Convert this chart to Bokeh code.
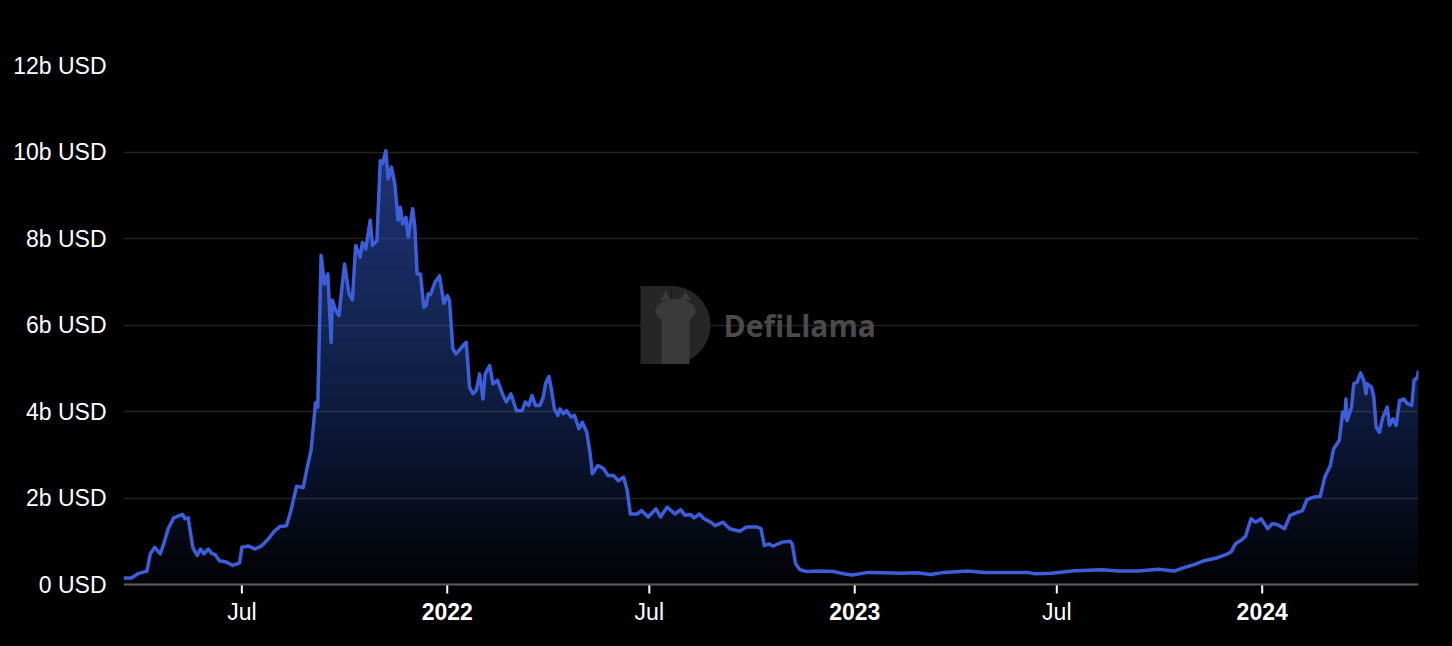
import numpy as np
import pandas as pd
from bokeh.plotting import figure
from bokeh.models import Range1d, FixedTicker, Label, Span
from bokeh.core.properties import value
from bokeh.embed import file_html
from bokeh.resources import INLINE

# ---------------- data (TVL in billions USD) ----------------
dates = [
    "2021-03-17", "2021-03-24", "2021-03-30", "2021-04-07", "2021-04-10", "2021-04-14",
    "2021-04-19", "2021-04-23", "2021-04-26", "2021-05-01", "2021-05-09", "2021-05-11",
    "2021-05-14", "2021-05-18", "2021-05-22", "2021-05-25", "2021-05-28", "2021-06-01",
    "2021-06-04", "2021-06-07", "2021-06-11", "2021-06-17", "2021-06-23", "2021-06-29",
    "2021-07-01", "2021-07-07", "2021-07-13", "2021-07-19", "2021-07-25", "2021-07-30",
    "2021-08-04", "2021-08-10", "2021-08-14", "2021-08-19", "2021-08-25", "2021-08-28",
    "2021-09-01", "2021-09-03", "2021-09-05", "2021-09-07", "2021-09-10", "2021-09-13",
    "2021-09-16", "2021-09-19", "2021-09-20", "2021-09-23", "2021-09-26", "2021-10-01",
    "2021-10-05", "2021-10-08", "2021-10-11", "2021-10-15", "2021-10-17", "2021-10-20",
    "2021-10-24", "2021-10-26", "2021-10-30", "2021-11-02", "2021-11-04", "2021-11-07",
    "2021-11-09", "2021-11-12", "2021-11-15", "2021-11-18", "2021-11-20", "2021-11-22",
    "2021-11-25", "2021-11-27", "2021-12-01", "2021-12-03", "2021-12-05", "2021-12-08",
    "2021-12-11", "2021-12-13", "2021-12-15", "2021-12-17", "2021-12-21", "2021-12-25",
    "2021-12-29", "2022-01-01", "2022-01-03", "2022-01-06", "2022-01-09", "2022-01-14",
    "2022-01-18", "2022-01-21", "2022-01-24", "2022-01-27", "2022-01-30", "2022-02-02",
    "2022-02-04", "2022-02-08", "2022-02-11", "2022-02-15", "2022-02-20", "2022-02-23",
    "2022-02-27", "2022-03-04", "2022-03-09", "2022-03-12", "2022-03-15", "2022-03-18",
    "2022-03-21", "2022-03-25", "2022-03-28", "2022-03-30", "2022-04-02", "2022-04-04",
    "2022-04-07", "2022-04-10", "2022-04-12", "2022-04-15", "2022-04-18", "2022-04-22",
    "2022-04-25", "2022-04-29", "2022-05-02", "2022-05-06", "2022-05-09", "2022-05-11",
    "2022-05-16", "2022-05-21", "2022-05-25", "2022-05-30", "2022-06-03", "2022-06-08",
    "2022-06-11", "2022-06-14", "2022-06-20", "2022-06-24", "2022-06-30", "2022-07-07",
    "2022-07-11", "2022-07-17", "2022-07-24", "2022-07-29", "2022-08-02", "2022-08-07",
    "2022-08-10", "2022-08-15", "2022-08-19", "2022-08-25", "2022-08-29", "2022-09-05",
    "2022-09-11", "2022-09-20", "2022-09-26", "2022-10-05", "2022-10-09", "2022-10-12",
    "2022-10-16", "2022-10-20", "2022-10-28", "2022-11-04", "2022-11-06", "2022-11-09",
    "2022-11-13", "2022-11-19", "2022-11-30", "2022-12-13", "2022-12-22", "2022-12-30",
    "2023-01-13", "2023-01-27", "2023-02-11", "2023-02-26", "2023-03-10", "2023-03-22",
    "2023-04-12", "2023-04-27", "2023-05-21", "2023-06-05", "2023-06-11", "2023-06-26",
    "2023-07-17", "2023-08-10", "2023-08-25", "2023-09-12", "2023-09-30", "2023-10-14",
    "2023-10-23", "2023-11-01", "2023-11-10", "2023-11-22", "2023-12-01", "2023-12-04",
    "2023-12-08", "2023-12-13", "2023-12-17", "2023-12-22", "2023-12-26", "2023-12-31",
    "2024-01-06", "2024-01-10", "2024-01-15", "2024-01-21", "2024-01-26", "2024-02-01",
    "2024-02-06", "2024-02-10", "2024-02-16", "2024-02-22", "2024-02-26", "2024-03-02",
    "2024-03-05", "2024-03-10", "2024-03-12", "2024-03-13", "2024-03-15", "2024-03-16",
    "2024-03-17", "2024-03-21", "2024-03-23", "2024-03-26", "2024-03-29", "2024-04-01",
    "2024-04-03", "2024-04-04", "2024-04-08", "2024-04-10", "2024-04-12", "2024-04-15",
    "2024-04-18", "2024-04-22", "2024-04-24", "2024-04-27", "2024-04-30", "2024-05-03",
    "2024-05-07", "2024-05-10", "2024-05-14", "2024-05-16", "2024-05-19", "2024-05-20",
]
tvl_b = [
    0.15, 0.15, 0.25, 0.31, 0.71, 0.86,
    0.71, 1.02, 1.29, 1.54, 1.62, 1.52,
    1.54, 0.86, 0.67, 0.82, 0.71, 0.82,
    0.72, 0.69, 0.55, 0.52, 0.44, 0.50,
    0.86, 0.89, 0.82, 0.90, 1.06, 1.23,
    1.34, 1.36, 1.71, 2.27, 2.24, 2.64,
    3.10, 3.64, 4.20, 4.10, 7.61, 6.95,
    7.18, 5.60, 6.57, 6.34, 6.22, 7.41,
    6.72, 6.58, 7.84, 7.57, 7.91, 7.76,
    8.42, 7.84, 7.95, 9.80, 9.73, 10.03,
    9.38, 9.65, 9.26, 8.42, 8.72, 8.34,
    8.49, 8.03, 8.69, 8.26, 7.18, 7.18,
    6.41, 6.45, 6.72, 6.70, 6.99, 7.14,
    6.50, 6.68, 6.57, 5.45, 5.33, 5.49,
    5.60, 4.56, 4.41, 4.49, 4.87, 4.29,
    4.87, 5.06, 4.64, 4.72, 4.37, 4.22,
    4.41, 4.02, 4.02, 4.22, 4.14, 4.37,
    4.14, 4.14, 4.33, 4.64, 4.81, 4.56,
    4.06, 3.91, 4.06, 3.95, 4.02, 3.87,
    3.91, 3.60, 3.75, 3.52, 3.02, 2.56,
    2.75, 2.68, 2.52, 2.52, 2.40, 2.48,
    2.20, 1.63, 1.63, 1.71, 1.56, 1.75,
    1.56, 1.79, 1.63, 1.73, 1.60, 1.62,
    1.54, 1.63, 1.52, 1.44, 1.36, 1.44,
    1.29, 1.23, 1.33, 1.33, 1.29, 0.90,
    0.94, 0.89, 0.98, 1.00, 0.94, 0.48,
    0.34, 0.30, 0.31, 0.30, 0.25, 0.22,
    0.28, 0.27, 0.26, 0.27, 0.23, 0.28,
    0.31, 0.28, 0.28, 0.28, 0.25, 0.26,
    0.32, 0.34, 0.31, 0.31, 0.35, 0.31,
    0.39, 0.46, 0.55, 0.62, 0.71, 0.75,
    0.94, 1.02, 1.11, 1.52, 1.44, 1.52,
    1.29, 1.41, 1.38, 1.29, 1.60, 1.66,
    1.71, 1.96, 2.02, 2.04, 2.48, 2.75,
    3.14, 3.33, 3.75, 3.99, 3.87, 4.29,
    3.79, 4.10, 4.64, 4.68, 4.89, 4.72,
    4.41, 4.64, 4.56, 4.33, 3.64, 3.52,
    3.87, 4.10, 3.68, 3.83, 3.68, 4.25,
    4.29, 4.18, 4.14, 4.72, 4.79, 4.95,
]

y_ticks = [0, 2, 4, 6, 8, 10, 12]
y_tick_labels = ["0 USD", "2b USD", "4b USD", "6b USD", "8b USD", "10b USD", "12b USD"]
x_tick_dates = ["2021-07-01", "2022-01-01", "2022-07-01", "2023-01-01", "2023-07-01", "2024-01-01"]
x_tick_labels = ["Jul", "2022", "Jul", "2023", "Jul", "2024"]
x_tick_bold = [False, True, False, True, False, True]

# ---------------- layout / styling ----------------
LINE = "#3d5ed9"
FONT = "Liberation Sans"
W, H = 1452, 646
ML, MR, MT = 123, 34, 65
AXIS_PX = 584                       # pixel row of the zero line
PPU = (AXIS_PX - MT) / 12.0         # pixels per billion
Y_START = -(H - AXIS_PX) / PPU      # frame extends below zero to hold the x labels

x = pd.to_datetime(dates)
y = np.array(tvl_b, dtype=float)
x_ms = np.array([t.value // 10**6 for t in x], dtype=float)
x0, x1 = x_ms[0], x_ms[-1]

p = figure(width=W, height=H, x_axis_type="datetime", output_backend="svg",
           toolbar_location=None, x_range=Range1d(x0, x1), y_range=Range1d(Y_START, 12),
           background_fill_color="black", border_fill_color="black",
           outline_line_color=None, min_border_left=ML, min_border_right=MR,
           min_border_top=MT, min_border_bottom=0)

# ---------------- watermark (decoration) ----------------
frame_w = W - ML - MR
ms_px = (x1 - x0) / frame_w
v_px = 1.0 / PPU
cx = x0 + 634 * ms_px      # watermark centre
cy = 6.0
wm_dark, wm_mid = "#262626", "#3a3a3a"
p.rect(x=[cx - 101.5 * ms_px], y=[cy], width=31, height=78, width_units="screen",
       height_units="screen", fill_color=wm_dark, line_color=None)
p.wedge(x=[cx - 86 * ms_px], y=[cy], radius=39, radius_units="screen",
        start_angle=-np.pi / 2, end_angle=np.pi / 2, fill_color=wm_dark, line_color=None)
p.rect(x=[cx - 82 * ms_px], y=[cy - 8 * v_px], width=28, height=62, width_units="screen",
       height_units="screen", fill_color=wm_mid, line_color=None)
p.ellipse(x=[cx - 82 * ms_px], y=[cy + 14 * v_px], width=40, height=24, width_units="screen",
          height_units="screen", fill_color=wm_mid, line_color=None)
p.scatter(x=[cx - 92 * ms_px, cx - 72 * ms_px], y=[cy + 28 * v_px] * 2, marker="triangle",
          size=11, fill_color=wm_mid, line_color=None)
p.add_layout(Label(x=cx, y=cy, x_offset=-34, text="DefiLlama", text_align="left",
                   text_baseline="middle", text_font="Open Sans", text_font_style="bold",
                   text_font_size="30px", text_color="#4a4a4a"))

# ---------------- gradient area ----------------
n_layers = 30
top = y.max()
a = 1 - 0.45 ** (1.0 / n_layers)
for k in range(n_layers):
    lo = top * k / n_layers
    p.varea(x=x_ms, y1=np.minimum(y, lo), y2=y, fill_color=LINE, fill_alpha=a)

p.line(x=x_ms, y=y, line_color=LINE, line_width=3.5, line_join="round")

# ---------------- grid & y axis ----------------
p.xgrid.grid_line_color = None
p.ygrid.grid_line_color = "#222222"
p.ygrid.grid_line_width = 1.5
p.ygrid.ticker = FixedTicker(ticks=y_ticks)

ya = p.yaxis[0]
ya.ticker = FixedTicker(ticks=y_ticks)
ya.major_label_overrides = {t: l for t, l in zip(y_ticks, y_tick_labels)}
ya.axis_line_color = None
ya.major_tick_line_color = None
ya.minor_tick_line_color = None
ya.major_label_standoff = 11
ya.major_label_text_color = "white"
ya.major_label_text_font = FONT
ya.major_label_text_font_size = "23px"

# ---------------- x axis (drawn inside the extended frame) ----------------
p.xaxis.visible = False
p.add_layout(Span(location=0, dimension="width", line_color="#5a5a5a", line_width=2))
tick_ms = np.array([float(pd.Timestamp(d).value // 10**6) for d in x_tick_dates])
p.segment(x0=tick_ms, y0=np.zeros(len(tick_ms)), x1=tick_ms,
          y1=np.full(len(tick_ms), -9 * v_px), line_color="white", line_width=2)
bold = np.array(x_tick_bold)
lab = np.array(x_tick_labels)
label_y = -27 * v_px
for mask, style in ((~bold, "normal"), (bold, "bold")):
    p.text(x=tick_ms[mask], y=np.full(mask.sum(), label_y), text=list(lab[mask]),
           text_align="center", text_baseline="alphabetic", text_color="white",
           text_font=value(FONT), text_font_size="23px", text_font_style=style)

html = file_html(p, INLINE)
html = html.replace("<head>", "<head><style>html,body{background:#000;margin:0;}</style>", 1)
open("out.html", "w").write(html)
